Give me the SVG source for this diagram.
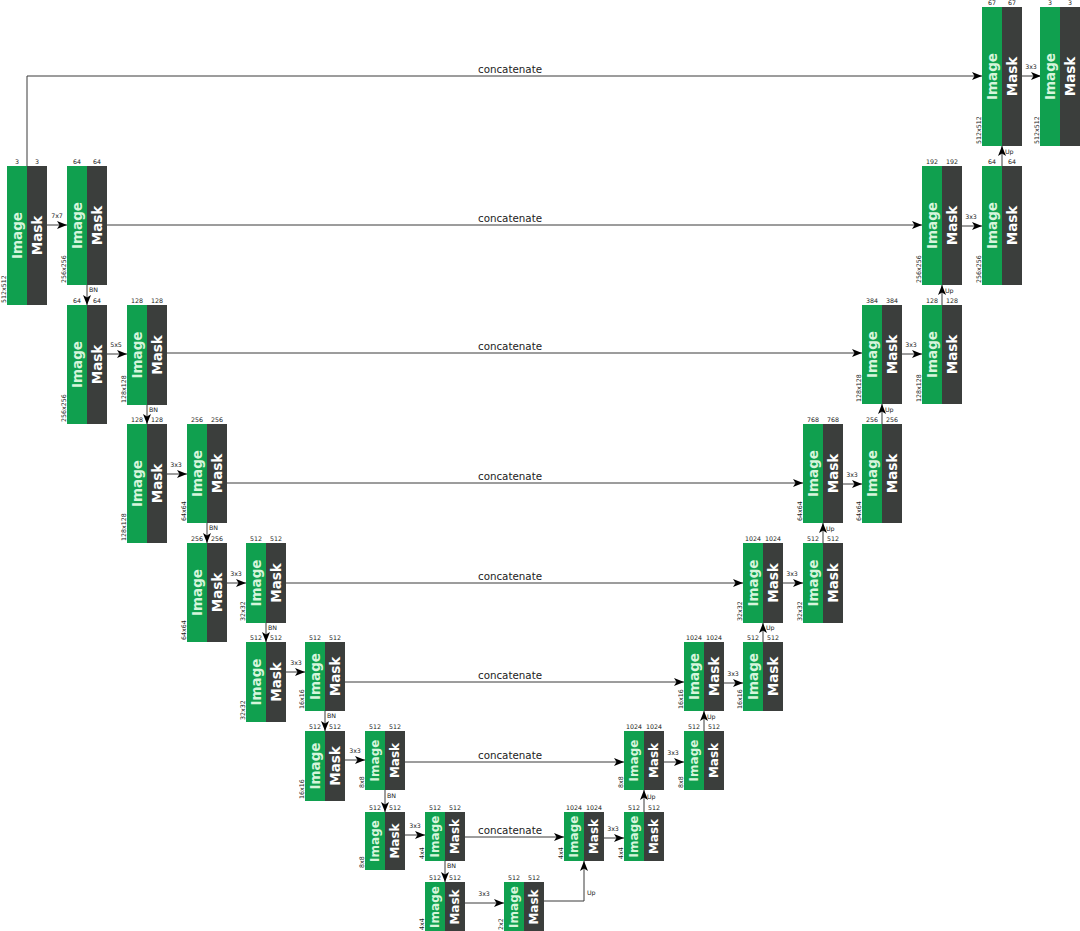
<svg xmlns="http://www.w3.org/2000/svg" width="1080" height="931" viewBox="0 0 1080 931">
<style>
.g{fill:#10a04f}
.d{fill:#3b3e3c}
.im{font-family:"DejaVu Sans",sans-serif;font-weight:bold;font-size:13.5px;fill:#d6f5dc;text-anchor:middle;dominant-baseline:central}
.mk{font-family:"DejaVu Sans",sans-serif;font-weight:bold;font-size:13.5px;fill:#ffffff;text-anchor:middle;dominant-baseline:central}
.s .im,.s .mk{font-size:12px}
.n{font-family:"DejaVu Sans",sans-serif;font-size:6.3px;fill:#222;text-anchor:middle}
.dm{font-family:"DejaVu Sans",sans-serif;font-size:6.3px;fill:#222}
.lb{font-family:"DejaVu Sans",sans-serif;font-size:6.3px;fill:#222}
.lc{font-family:"DejaVu Sans",sans-serif;font-size:6.3px;fill:#222;text-anchor:middle}
.cc{font-family:"DejaVu Sans",sans-serif;font-size:10.3px;fill:#222;text-anchor:middle}
.ln{fill:none;stroke:#3a3a3a;stroke-width:1;marker-end:url(#ah)}
</style>
<defs>
<marker id="ah" markerUnits="userSpaceOnUse" markerWidth="10" markerHeight="8" refX="10" refY="4" orient="auto">
<path d="M0,0 L10,4 L0,8 L2.5,4 Z" fill="#000"/>
</marker>
</defs>
<rect width="1080" height="931" fill="#fff"/>

<g id="connectors">
<!-- encoder conv arrows -->
<path class="ln" d="M47,225 H67"/><text class="lc" x="57" y="218">7x7</text>
<path class="ln" d="M107,354 H127"/><text class="lc" x="116" y="347">5x5</text>
<path class="ln" d="M167,474 H187"/><text class="lc" x="176" y="467">3x3</text>
<path class="ln" d="M227,583 H246"/><text class="lc" x="236" y="576">3x3</text>
<path class="ln" d="M286,672 H305"/><text class="lc" x="296" y="665">3x3</text>
<path class="ln" d="M345,760 H365"/><text class="lc" x="355" y="753">3x3</text>
<path class="ln" d="M405,835 H425"/><text class="lc" x="415" y="828">3x3</text>
<path class="ln" d="M465,903 H504"/><text class="lc" x="484" y="896">3x3</text>
<!-- BN arrows -->
<path class="ln" d="M87,285 V305"/><text class="lb" x="89" y="292">BN</text>
<path class="ln" d="M147,405 V424"/><text class="lb" x="149" y="412">BN</text>
<path class="ln" d="M207,523 V543"/><text class="lb" x="209" y="530">BN</text>
<path class="ln" d="M266,623 V642"/><text class="lb" x="268" y="630">BN</text>
<path class="ln" d="M325,711 V731"/><text class="lb" x="327" y="718">BN</text>
<path class="ln" d="M385,790 V812"/><text class="lb" x="387" y="798">BN</text>
<path class="ln" d="M445,861 V882"/><text class="lb" x="447" y="868">BN</text>
<!-- concatenate -->
<path class="ln" d="M27,166 V76 H982"/><text class="cc" x="510" y="73">concatenate</text>
<path class="ln" d="M107,225 H922"/><text class="cc" x="510" y="222">concatenate</text>
<path class="ln" d="M167,353 H862"/><text class="cc" x="510" y="350">concatenate</text>
<path class="ln" d="M227,483 H803"/><text class="cc" x="510" y="480">concatenate</text>
<path class="ln" d="M286,583 H743"/><text class="cc" x="510" y="580">concatenate</text>
<path class="ln" d="M345,682 H684"/><text class="cc" x="510" y="679">concatenate</text>
<path class="ln" d="M405,762 H624"/><text class="cc" x="510" y="759">concatenate</text>
<path class="ln" d="M465,837 H564"/><text class="cc" x="510" y="834">concatenate</text>
<!-- decoder conv arrows -->
<path class="ln" d="M604,838 H624"/><text class="lc" x="613" y="831">3x3</text>
<path class="ln" d="M664,762 H684"/><text class="lc" x="673" y="755">3x3</text>
<path class="ln" d="M723,683 H743"/><text class="lc" x="733" y="676">3x3</text>
<path class="ln" d="M783,583 H803"/><text class="lc" x="792" y="576">3x3</text>
<path class="ln" d="M843,484 H862"/><text class="lc" x="852" y="477">3x3</text>
<path class="ln" d="M902,354 H922"/><text class="lc" x="911" y="347">3x3</text>
<path class="ln" d="M962,226 H982"/><text class="lc" x="971" y="219">3x3</text>
<path class="ln" d="M1022,76 H1041"/><text class="lc" x="1031" y="69">3x3</text>
<!-- up arrows -->
<path class="ln" d="M544,901 H584 V861"/><text class="lb" x="587" y="895">Up</text>
<path class="ln" d="M644,812 V790"/><text class="lb" x="647" y="799">Up</text>
<path class="ln" d="M704,731 V711"/><text class="lb" x="707" y="719">Up</text>
<path class="ln" d="M763,642 V623"/><text class="lb" x="766" y="630">Up</text>
<path class="ln" d="M823,543 V523"/><text class="lb" x="826" y="531">Up</text>
<path class="ln" d="M882,424 V404"/><text class="lb" x="885" y="412">Up</text>
<path class="ln" d="M942,305 V285"/><text class="lb" x="945" y="293">Up</text>
<path class="ln" d="M1002,166 V146"/><text class="lb" x="1005" y="154">Up</text>
</g>

<!-- encoder blocks -->
<g id="e0a" transform="translate(7,166)"><rect class="g" width="20" height="139"/><rect class="d" x="20" width="20" height="139"/><text class="im" transform="translate(10,69.5) rotate(-90)">Image</text><text class="mk" transform="translate(30,69.5) rotate(-90)">Mask</text><text class="n" x="10" y="-2">3</text><text class="n" x="30" y="-2">3</text><text class="dm" transform="translate(-1.5,137) rotate(-90)">512x512</text></g>
<g id="e0b" transform="translate(67,166)"><rect class="g" width="20" height="119"/><rect class="d" x="20" width="20" height="119"/><text class="im" transform="translate(10,59.5) rotate(-90)">Image</text><text class="mk" transform="translate(30,59.5) rotate(-90)">Mask</text><text class="n" x="10" y="-2">64</text><text class="n" x="30" y="-2">64</text><text class="dm" transform="translate(-1.5,117) rotate(-90)">256x256</text></g>
<g id="e1a" transform="translate(67,305)"><rect class="g" width="20" height="119"/><rect class="d" x="20" width="20" height="119"/><text class="im" transform="translate(10,59.5) rotate(-90)">Image</text><text class="mk" transform="translate(30,59.5) rotate(-90)">Mask</text><text class="n" x="10" y="-2">64</text><text class="n" x="30" y="-2">64</text><text class="dm" transform="translate(-1.5,117) rotate(-90)">256x256</text></g>
<g id="e1b" transform="translate(127,305)"><rect class="g" width="20" height="100"/><rect class="d" x="20" width="20" height="100"/><text class="im" transform="translate(10,50) rotate(-90)">Image</text><text class="mk" transform="translate(30,50) rotate(-90)">Mask</text><text class="n" x="10" y="-2">128</text><text class="n" x="30" y="-2">128</text><text class="dm" transform="translate(-1.5,98) rotate(-90)">128x128</text></g>
<g id="e2a" transform="translate(127,424)"><rect class="g" width="20" height="119"/><rect class="d" x="20" width="20" height="119"/><text class="im" transform="translate(10,59.5) rotate(-90)">Image</text><text class="mk" transform="translate(30,59.5) rotate(-90)">Mask</text><text class="n" x="10" y="-2">128</text><text class="n" x="30" y="-2">128</text><text class="dm" transform="translate(-1.5,117) rotate(-90)">128x128</text></g>
<g id="e2b" transform="translate(187,424)"><rect class="g" width="20" height="99"/><rect class="d" x="20" width="20" height="99"/><text class="im" transform="translate(10,49.5) rotate(-90)">Image</text><text class="mk" transform="translate(30,49.5) rotate(-90)">Mask</text><text class="n" x="10" y="-2">256</text><text class="n" x="30" y="-2">256</text><text class="dm" transform="translate(-1.5,97) rotate(-90)">64x64</text></g>
<g id="e3a" transform="translate(187,543)"><rect class="g" width="20" height="99"/><rect class="d" x="20" width="20" height="99"/><text class="im" transform="translate(10,49.5) rotate(-90)">Image</text><text class="mk" transform="translate(30,49.5) rotate(-90)">Mask</text><text class="n" x="10" y="-2">256</text><text class="n" x="30" y="-2">256</text><text class="dm" transform="translate(-1.5,97) rotate(-90)">64x64</text></g>
<g id="e3b" transform="translate(246,543)"><rect class="g" width="20" height="80"/><rect class="d" x="20" width="20" height="80"/><text class="im" transform="translate(10,40) rotate(-90)">Image</text><text class="mk" transform="translate(30,40) rotate(-90)">Mask</text><text class="n" x="10" y="-2">512</text><text class="n" x="30" y="-2">512</text><text class="dm" transform="translate(-1.5,78) rotate(-90)">32x32</text></g>
<g id="e4a" transform="translate(246,642)"><rect class="g" width="20" height="80"/><rect class="d" x="20" width="20" height="80"/><text class="im" transform="translate(10,40) rotate(-90)">Image</text><text class="mk" transform="translate(30,40) rotate(-90)">Mask</text><text class="n" x="10" y="-2">512</text><text class="n" x="30" y="-2">512</text><text class="dm" transform="translate(-1.5,78) rotate(-90)">32x32</text></g>
<g id="e4b" transform="translate(305,642)"><rect class="g" width="20" height="69"/><rect class="d" x="20" width="20" height="69"/><text class="im" transform="translate(10,34.5) rotate(-90)">Image</text><text class="mk" transform="translate(30,34.5) rotate(-90)">Mask</text><text class="n" x="10" y="-2">512</text><text class="n" x="30" y="-2">512</text><text class="dm" transform="translate(-1.5,67) rotate(-90)">16x16</text></g>
<g id="e5a" transform="translate(305,731)"><rect class="g" width="20" height="70"/><rect class="d" x="20" width="20" height="70"/><text class="im" transform="translate(10,35) rotate(-90)">Image</text><text class="mk" transform="translate(30,35) rotate(-90)">Mask</text><text class="n" x="10" y="-2">512</text><text class="n" x="30" y="-2">512</text><text class="dm" transform="translate(-1.5,68) rotate(-90)">16x16</text></g>
<g id="e5b" class="s" transform="translate(365,731)"><rect class="g" width="20" height="59"/><rect class="d" x="20" width="20" height="59"/><text class="im" transform="translate(10,29.5) rotate(-90)">Image</text><text class="mk" transform="translate(30,29.5) rotate(-90)">Mask</text><text class="n" x="10" y="-2">512</text><text class="n" x="30" y="-2">512</text><text class="dm" transform="translate(-1.5,57) rotate(-90)">8x8</text></g>
<g id="e6a" class="s" transform="translate(365,812)"><rect class="g" width="20" height="58"/><rect class="d" x="20" width="20" height="58"/><text class="im" transform="translate(10,29) rotate(-90)">Image</text><text class="mk" transform="translate(30,29) rotate(-90)">Mask</text><text class="n" x="10" y="-2">512</text><text class="n" x="30" y="-2">512</text><text class="dm" transform="translate(-1.5,56) rotate(-90)">8x8</text></g>
<g id="e6b" class="s" transform="translate(425,812)"><rect class="g" width="20" height="49"/><rect class="d" x="20" width="20" height="49"/><text class="im" transform="translate(10,24.5) rotate(-90)">Image</text><text class="mk" transform="translate(30,24.5) rotate(-90)">Mask</text><text class="n" x="10" y="-2">512</text><text class="n" x="30" y="-2">512</text><text class="dm" transform="translate(-1.5,47) rotate(-90)">4x4</text></g>
<g id="e7a" class="s" transform="translate(425,882)"><rect class="g" width="20" height="50"/><rect class="d" x="20" width="20" height="50"/><text class="im" transform="translate(10,25) rotate(-90)">Image</text><text class="mk" transform="translate(30,25) rotate(-90)">Mask</text><text class="n" x="10" y="-2">512</text><text class="n" x="30" y="-2">512</text><text class="dm" transform="translate(-1.5,48) rotate(-90)">4x4</text></g>
<g id="e7b" class="s" transform="translate(504,882)"><rect class="g" width="20" height="50"/><rect class="d" x="20" width="20" height="50"/><text class="im" transform="translate(10,25) rotate(-90)">Image</text><text class="mk" transform="translate(30,25) rotate(-90)">Mask</text><text class="n" x="10" y="-2">512</text><text class="n" x="30" y="-2">512</text><text class="dm" transform="translate(-1.5,48) rotate(-90)">2x2</text></g>

<!-- decoder blocks -->
<g id="d6a" class="s" transform="translate(564,812)"><rect class="g" width="20" height="49"/><rect class="d" x="20" width="20" height="49"/><text class="im" transform="translate(10,24.5) rotate(-90)">Image</text><text class="mk" transform="translate(30,24.5) rotate(-90)">Mask</text><text class="n" x="10" y="-2">1024</text><text class="n" x="30" y="-2">1024</text><text class="dm" transform="translate(-1.5,47) rotate(-90)">4x4</text></g>
<g id="d6b" class="s" transform="translate(624,812)"><rect class="g" width="20" height="49"/><rect class="d" x="20" width="20" height="49"/><text class="im" transform="translate(10,24.5) rotate(-90)">Image</text><text class="mk" transform="translate(30,24.5) rotate(-90)">Mask</text><text class="n" x="10" y="-2">512</text><text class="n" x="30" y="-2">512</text><text class="dm" transform="translate(-1.5,47) rotate(-90)">4x4</text></g>
<g id="d5a" class="s" transform="translate(624,731)"><rect class="g" width="20" height="59"/><rect class="d" x="20" width="20" height="59"/><text class="im" transform="translate(10,29.5) rotate(-90)">Image</text><text class="mk" transform="translate(30,29.5) rotate(-90)">Mask</text><text class="n" x="10" y="-2">1024</text><text class="n" x="30" y="-2">1024</text><text class="dm" transform="translate(-1.5,57) rotate(-90)">8x8</text></g>
<g id="d5b" class="s" transform="translate(684,731)"><rect class="g" width="20" height="59"/><rect class="d" x="20" width="20" height="59"/><text class="im" transform="translate(10,29.5) rotate(-90)">Image</text><text class="mk" transform="translate(30,29.5) rotate(-90)">Mask</text><text class="n" x="10" y="-2">512</text><text class="n" x="30" y="-2">512</text><text class="dm" transform="translate(-1.5,57) rotate(-90)">8x8</text></g>
<g id="d4a" transform="translate(684,642)"><rect class="g" width="20" height="69"/><rect class="d" x="20" width="20" height="69"/><text class="im" transform="translate(10,34.5) rotate(-90)">Image</text><text class="mk" transform="translate(30,34.5) rotate(-90)">Mask</text><text class="n" x="10" y="-2">1024</text><text class="n" x="30" y="-2">1024</text><text class="dm" transform="translate(-1.5,67) rotate(-90)">16x16</text></g>
<g id="d4b" transform="translate(743,642)"><rect class="g" width="20" height="69"/><rect class="d" x="20" width="20" height="69"/><text class="im" transform="translate(10,34.5) rotate(-90)">Image</text><text class="mk" transform="translate(30,34.5) rotate(-90)">Mask</text><text class="n" x="10" y="-2">512</text><text class="n" x="30" y="-2">512</text><text class="dm" transform="translate(-1.5,67) rotate(-90)">16x16</text></g>
<g id="d3a" transform="translate(743,543)"><rect class="g" width="20" height="80"/><rect class="d" x="20" width="20" height="80"/><text class="im" transform="translate(10,40) rotate(-90)">Image</text><text class="mk" transform="translate(30,40) rotate(-90)">Mask</text><text class="n" x="10" y="-2">1024</text><text class="n" x="30" y="-2">1024</text><text class="dm" transform="translate(-1.5,78) rotate(-90)">32x32</text></g>
<g id="d3b" transform="translate(803,543)"><rect class="g" width="20" height="80"/><rect class="d" x="20" width="20" height="80"/><text class="im" transform="translate(10,40) rotate(-90)">Image</text><text class="mk" transform="translate(30,40) rotate(-90)">Mask</text><text class="n" x="10" y="-2">512</text><text class="n" x="30" y="-2">512</text><text class="dm" transform="translate(-1.5,78) rotate(-90)">32x32</text></g>
<g id="d2a" transform="translate(803,424)"><rect class="g" width="20" height="99"/><rect class="d" x="20" width="20" height="99"/><text class="im" transform="translate(10,49.5) rotate(-90)">Image</text><text class="mk" transform="translate(30,49.5) rotate(-90)">Mask</text><text class="n" x="10" y="-2">768</text><text class="n" x="30" y="-2">768</text><text class="dm" transform="translate(-1.5,97) rotate(-90)">64x64</text></g>
<g id="d2b" transform="translate(862,424)"><rect class="g" width="20" height="99"/><rect class="d" x="20" width="20" height="99"/><text class="im" transform="translate(10,49.5) rotate(-90)">Image</text><text class="mk" transform="translate(30,49.5) rotate(-90)">Mask</text><text class="n" x="10" y="-2">256</text><text class="n" x="30" y="-2">256</text><text class="dm" transform="translate(-1.5,97) rotate(-90)">64x64</text></g>
<g id="d1a" transform="translate(862,305)"><rect class="g" width="20" height="99"/><rect class="d" x="20" width="20" height="99"/><text class="im" transform="translate(10,49.5) rotate(-90)">Image</text><text class="mk" transform="translate(30,49.5) rotate(-90)">Mask</text><text class="n" x="10" y="-2">384</text><text class="n" x="30" y="-2">384</text><text class="dm" transform="translate(-1.5,97) rotate(-90)">128x128</text></g>
<g id="d1b" transform="translate(922,305)"><rect class="g" width="20" height="99"/><rect class="d" x="20" width="20" height="99"/><text class="im" transform="translate(10,49.5) rotate(-90)">Image</text><text class="mk" transform="translate(30,49.5) rotate(-90)">Mask</text><text class="n" x="10" y="-2">128</text><text class="n" x="30" y="-2">128</text><text class="dm" transform="translate(-1.5,97) rotate(-90)">128x128</text></g>
<g id="d0a" transform="translate(922,166)"><rect class="g" width="20" height="119"/><rect class="d" x="20" width="20" height="119"/><text class="im" transform="translate(10,59.5) rotate(-90)">Image</text><text class="mk" transform="translate(30,59.5) rotate(-90)">Mask</text><text class="n" x="10" y="-2">192</text><text class="n" x="30" y="-2">192</text><text class="dm" transform="translate(-1.5,117) rotate(-90)">256x256</text></g>
<g id="d0b" transform="translate(982,166)"><rect class="g" width="20" height="119"/><rect class="d" x="20" width="20" height="119"/><text class="im" transform="translate(10,59.5) rotate(-90)">Image</text><text class="mk" transform="translate(30,59.5) rotate(-90)">Mask</text><text class="n" x="10" y="-2">64</text><text class="n" x="30" y="-2">64</text><text class="dm" transform="translate(-1.5,117) rotate(-90)">256x256</text></g>
<g id="dta" transform="translate(982,7)"><rect class="g" width="20" height="139"/><rect class="d" x="20" width="20" height="139"/><text class="im" transform="translate(10,69.5) rotate(-90)">Image</text><text class="mk" transform="translate(30,69.5) rotate(-90)">Mask</text><text class="n" x="10" y="-2">67</text><text class="n" x="30" y="-2">67</text><text class="dm" transform="translate(-1.5,137) rotate(-90)">512x512</text></g>
<g id="dtb" transform="translate(1040,7)"><rect class="g" width="20" height="139"/><rect class="d" x="20" width="20" height="139"/><text class="im" transform="translate(10,69.5) rotate(-90)">Image</text><text class="mk" transform="translate(30,69.5) rotate(-90)">Mask</text><text class="n" x="10" y="-2">3</text><text class="n" x="30" y="-2">3</text><text class="dm" transform="translate(-1.5,137) rotate(-90)">512x512</text></g>
</svg>
